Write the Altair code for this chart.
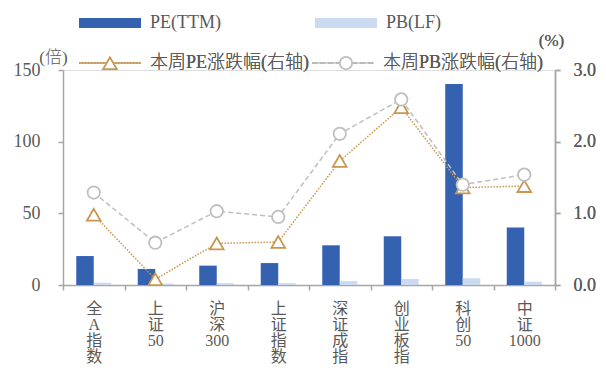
import altair as alt
import pandas as pd

categories = ["全A指数", "上证50", "沪深300", "上证指数", "深证成指", "创业板指", "科创50", "中证1000"]
pe_ttm = [20.2, 11.2, 13.5, 15.3, 27.7, 34.0, 140.2, 40.2]
pb_lf = [1.6, 1.1, 1.3, 1.3, 2.7, 4.2, 4.7, 2.3]
pe_chg = [0.98, 0.08, 0.58, 0.60, 1.73, 2.48, 1.36, 1.38]
pb_chg = [1.29, 0.59, 1.03, 0.95, 2.11, 2.59, 1.40, 1.54]
bar_series = ["PE(TTM)", "PB(LF)"]
line_series = ["本周PE涨跌幅(右轴)", "本周PB涨跌幅(右轴)"]
left_ticks = [0, 50, 100, 150]
right_ticks = [0.0, 1.0, 2.0, 3.0]

BLUE = "#3461B0"
LIGHT = "#CCDAEF"
ORANGE = "#C8964F"
GRAY = "#BFBFBF"
AXIS = "#A6A6A6"
TEXT = "#595959"
FONT = "Liberation Serif, Noto Sans CJK SC"

bar_df = pd.DataFrame(
    [{"category": c, "series": bar_series[0], "value": v} for c, v in zip(categories, pe_ttm)]
    + [{"category": c, "series": bar_series[1], "value": v} for c, v in zip(categories, pb_lf)]
)
line_df = pd.DataFrame(
    [{"category": c, "series": line_series[0], "value": v} for c, v in zip(categories, pe_chg)]
    + [{"category": c, "series": line_series[1], "value": v} for c, v in zip(categories, pb_chg)]
)

RECT = "M-1,-0.16H1V0.16H-1Z"
TRI = "M0,-0.19L0.22,0.19L-0.22,0.19Z"
CIRC = "M0.2,0A0.2,0.2,0,1,1,-0.2,0A0.2,0.2,0,1,1,0.2,0Z"
SYM = 3844

x_enc = alt.X(
    "category:N", sort=categories, title=None,
    scale=alt.Scale(paddingInner=0, paddingOuter=0),
    axis=alt.Axis(
        labelAngle=0, labelBaseline="top", labelAlign="center",
        labelExpr="split(trim(replace(datum.label, regexp('([^0-9])', 'g'), '$1\\n')), '\\n')",
        labelFontSize=16, labelLineHeight=16, labelPadding=10, labelColor=TEXT,
        tickBand="extent", tickSize=5, tickColor=AXIS, domainColor=AXIS,
        domainWidth=1.5, tickWidth=1.5, labelFont=FONT,
    ),
)

legend_common = dict(
    orient="none", direction="horizontal", columns=2, title=None,
    labelFont=FONT, labelFontSize=18, labelOffset=8, labelLimit=400,
    labelFontWeight=300,
    symbolSize=SYM, padding=0, rowPadding=0,
)

bars = alt.Chart(bar_df).mark_bar().encode(
    x=x_enc,
    xOffset=alt.XOffset("series:N", sort=bar_series,
                        scale=alt.Scale(paddingInner=0, paddingOuter=0.757)),
    y=alt.Y(
        "value:Q",
        scale=alt.Scale(domain=[0, 150], nice=False),
        axis=alt.Axis(
            values=left_ticks, grid=False, title="(倍)", titleAngle=0,
            titleX=-10, titleY=-13, titleAlign="center", titleBaseline="middle",
            titleFont=FONT, titleFontSize=17, titleFontWeight=300, titleColor=TEXT,
            labelFont=FONT, labelFontSize=18, labelColor=TEXT, labelPadding=18,
            tickSize=5, tickColor=AXIS, domainColor=AXIS, domainWidth=1.5, tickWidth=1.5,
        ),
    ),
    color=alt.Color(
        "series:N",
        scale=alt.Scale(domain=bar_series, range=[BLUE, LIGHT]),
        legend=alt.Legend(legendX=15, legendY=-79, symbolType=RECT, labelColor=TEXT,
                          columnPadding=93, **legend_common),
    ),
)

y_right = alt.Y(
    "value:Q",
    scale=alt.Scale(domain=[0, 3], nice=False),
    axis=alt.Axis(
        orient="right", values=right_ticks, format=".1f", grid=False,
        title="(%)", titleAngle=0, titleX=-4, titleY=-30,
        titleAlign="center", titleBaseline="middle",
        titleFont=FONT, titleFontSize=17, titleFontWeight="normal", titleColor=TEXT,
        labelFont=FONT, labelFontSize=18, labelColor=TEXT, labelPadding=13,
        tickSize=5, tickColor=AXIS, domainColor=AXIS, domainWidth=1.5, tickWidth=1.5,
    ),
)

line_legend = alt.Legend(legendX=15, legendY=-39, symbolType="stroke", labelColor=TEXT,
                         symbolStrokeWidth=1.5, columnPadding=0, **legend_common)

lines = alt.Chart(line_df).mark_line(strokeWidth=1.5).encode(
    x=alt.X("category:N", sort=categories),
    y=y_right,
    stroke=alt.Stroke("series:N", scale=alt.Scale(domain=line_series, range=[ORANGE, GRAY]),
                      legend=line_legend),
    strokeDash=alt.StrokeDash("series:N", scale=alt.Scale(domain=line_series, range=[[1.5, 1.5], [5, 3]]),
                              legend=line_legend),
)

marker_legend = alt.Legend(
    legendX=15, legendY=-39, columnPadding=164,
    symbolFillColor="white", symbolStrokeWidth=1.8,
    labelExpr="''",
    **legend_common,
)

points = alt.Chart(line_df).mark_point(
    filled=True, fill="white", size=SYM, strokeWidth=1.8, opacity=1
).encode(
    x=alt.X("category:N", sort=categories),
    y=y_right,
    shape=alt.Shape("series:N", scale=alt.Scale(domain=line_series, range=[TRI, CIRC]), legend=marker_legend),
    stroke=alt.Stroke("series:N", scale=alt.Scale(domain=line_series, range=[ORANGE, GRAY]), legend=marker_legend),
)

chart = alt.layer(bars, lines, points).resolve_scale(
    y="independent", color="independent", stroke="independent", shape="independent"
).properties(
    width=492, height=215,
    autosize=alt.AutoSizeParams(type="none"),
    padding={"left": 55, "top": 62, "right": 43, "bottom": 80},
).configure_view(stroke=None).configure(font=FONT)

chart.save("out.html", embed_options={"renderer": "svg", "actions": False})
